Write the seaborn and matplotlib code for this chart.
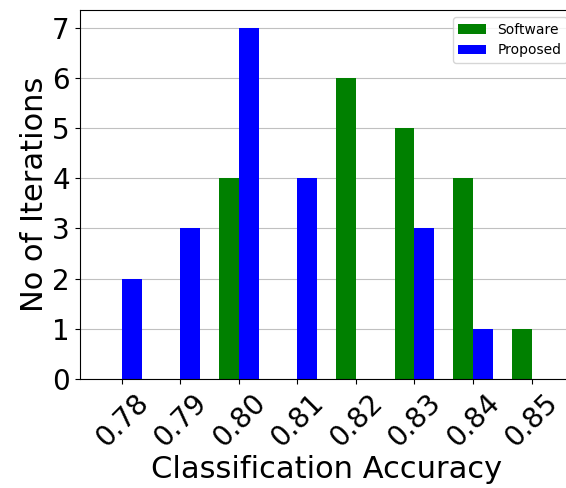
import pandas as pd
import matplotlib
matplotlib.use("Agg")
import matplotlib.pyplot as plt
import seaborn as sns

accuracy = ["0.78", "0.79", "0.80", "0.81", "0.82", "0.83", "0.84", "0.85"]
software = [0, 0, 4, 0, 6, 5, 4, 1]
proposed = [2, 3, 7, 4, 0, 3, 1, 0]
yticks = [0, 1, 2, 3, 4, 5, 6, 7]

df = pd.DataFrame({
    "acc": accuracy * 2,
    "count": software + proposed,
    "method": ["Software"] * len(accuracy) + ["Proposed"] * len(accuracy),
})

fig = plt.figure(figsize=(5.66, 4.88), dpi=100)
ax = fig.add_axes([0.1406, 0.2234, 0.8733, 0.7561])

sns.barplot(data=df, x="acc", y="count", hue="method", order=accuracy,
            hue_order=["Software", "Proposed"],
            palette={"Software": "green", "Proposed": "blue"},
            width=0.68, saturation=1, ax=ax)

ax.set_xlim(-0.724, 7.724)
ax.set_ylim(0, 7.35)
ax.set_yticks(yticks)
ax.set_axisbelow(True)
ax.yaxis.grid(True, color="#c0c0c0", linewidth=0.8)
ax.xaxis.grid(False)

ax.set_xlabel("Classification Accuracy", fontsize=22, labelpad=2)
ax.set_ylabel("No of Iterations", fontsize=22, labelpad=2)
ax.tick_params(axis="both", labelsize=20)
plt.setp(ax.get_xticklabels(), rotation=45)

ax.legend(title=None, fontsize=10, loc="upper right")

fig.savefig("out.png", dpi=100)
